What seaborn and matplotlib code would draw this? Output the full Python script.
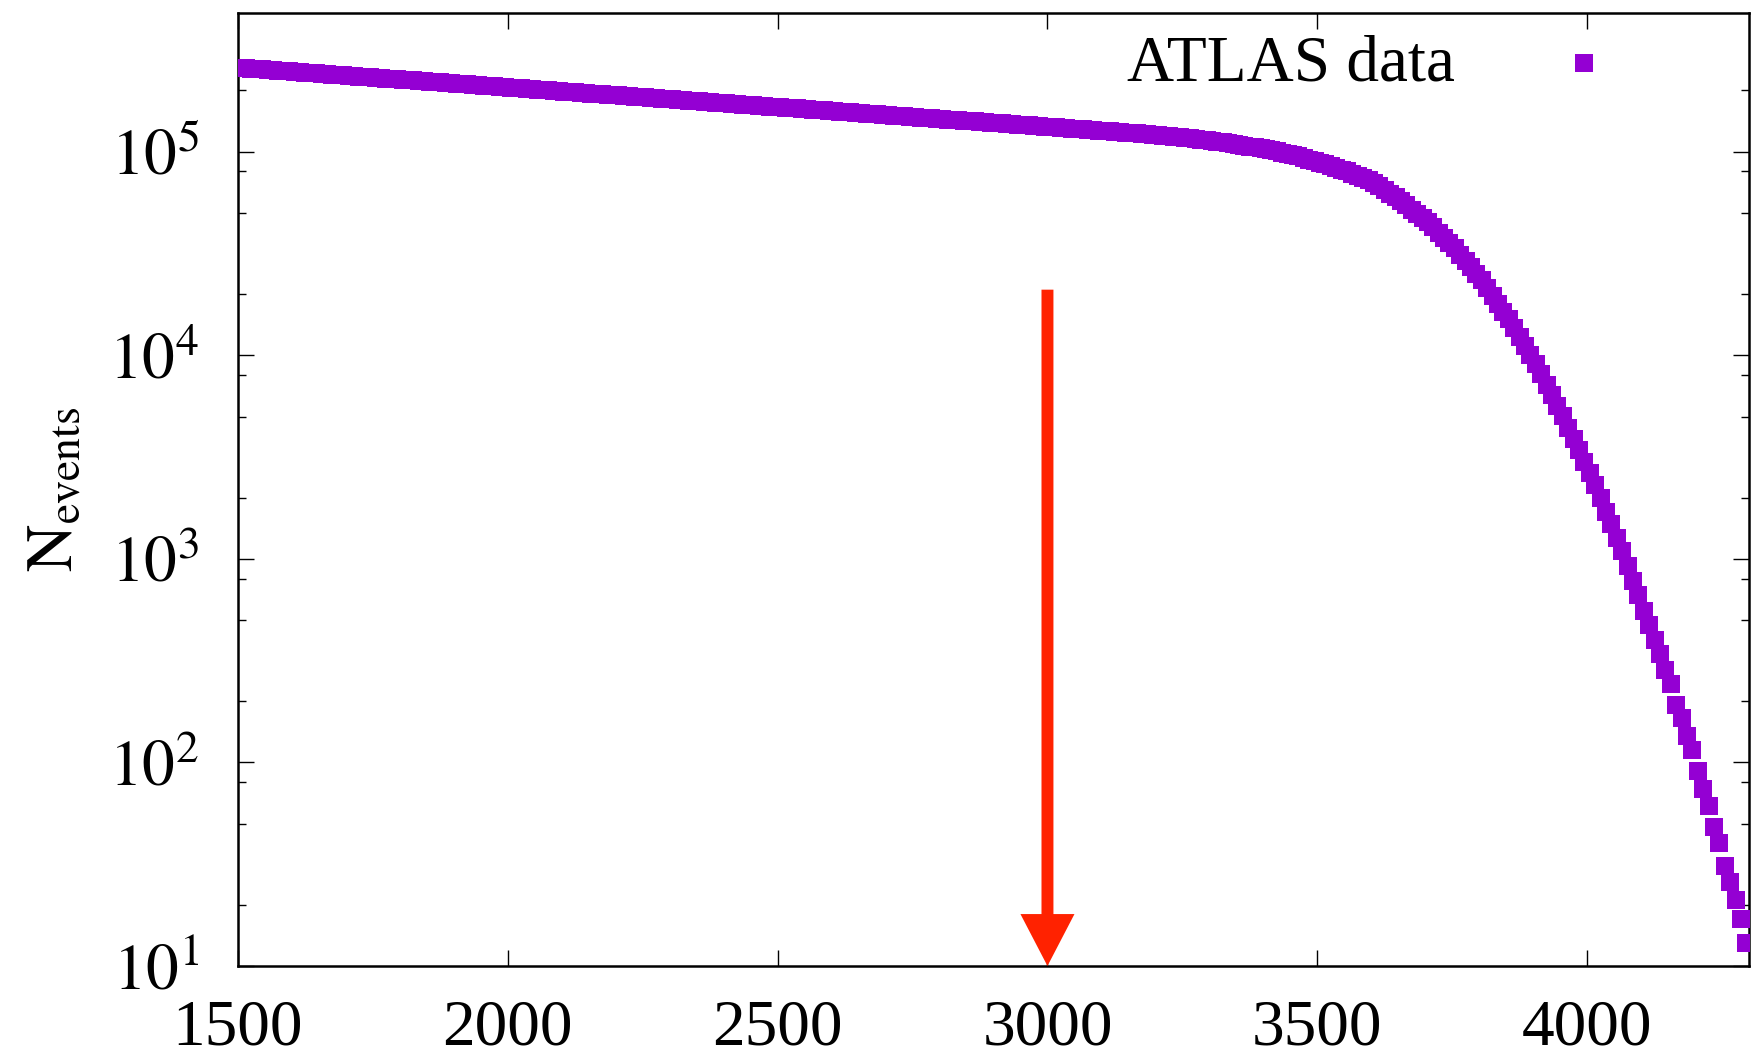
import numpy as np
import pandas as pd
import matplotlib
matplotlib.use("Agg")
import matplotlib.pyplot as plt
from matplotlib.ticker import LogLocator, NullFormatter, FixedLocator
import seaborn as sns

# ---------------- data ----------------
bin_centers = np.arange(1505, 4300, 10)  # GeV, 10 GeV bins

n_events = [
    258200, 257000, 255900, 254800, 253600, 252500, 251400, 250200, 249100, 248000,
    246900, 245800, 244700, 243600, 242500, 241400, 240400, 239300, 238200, 237200,
    236100, 235000, 234000, 233000, 231900, 230900, 229900, 228800, 227800, 226800,
    225800, 224800, 223800, 222800, 221800, 220800, 219800, 218800, 217900, 216900,
    216000, 215000, 214100, 213100, 212200, 211200, 210300, 209300, 208400, 207500,
    206500, 205600, 204700, 203800, 202800, 201900, 201000, 200100, 199200, 198400,
    197500, 196600, 195700, 194900, 194000, 193100, 192300, 191400, 190600, 189700,
    188900, 188100, 187200, 186400, 185600, 184700, 183900, 183100, 182300, 181500,
    180600, 179800, 179000, 178200, 177400, 176600, 175800, 175000, 174300, 173500,
    172700, 171900, 171200, 170400, 169600, 168900, 168100, 167400, 166600, 165900,
    165200, 164500, 163700, 163000, 162300, 161500, 160800, 160100, 159400, 158700,
    158000, 157300, 156600, 155900, 155200, 154500, 153800, 153100, 152400, 151800,
    151100, 150400, 149800, 149100, 148400, 147800, 147100, 146400, 145800, 145100,
    144500, 143900, 143200, 142600, 141900, 141300, 140700, 140000, 139400, 138800,
    138200, 137600, 137000, 136400, 135800, 135100, 134500, 133900, 133300, 132800,
    132100, 131500, 130900, 130300, 129800, 129200, 128600, 128000, 127500, 126900,
    126400, 125800, 125300, 124700, 124200, 123600, 123100, 122500, 122000, 121400,
    120200, 119600, 118900, 118300, 117600, 116900, 116100, 115300, 114600, 113800,
    113000, 112000, 111000, 110100, 109100, 108100, 107100, 106000, 104900, 103800,
    102800, 101500, 100300, 99000, 97800, 96600, 94900, 93200, 91500, 89900,
    88300, 86600, 85000, 83300, 81700, 80200, 78100, 76100, 74100, 72200,
    70300, 67500, 64700, 62100, 59600, 57100, 54500, 52000, 49600, 47300,
    45100, 42500, 40000, 37700, 35600, 33500, 31200, 29000, 27000, 25100,
    23300, 21400, 19600, 17900, 16400, 15100, 13600, 12300, 11100, 10030,
    9060, 8050, 7150, 6350, 5640, 5010, 4410, 3880, 3410, 3000,
    2640, 2300, 1980, 1700, 1476, 1270, 1096, 925, 780, 667,
    556, 474, 401, 342, 285, 244, 192, 166, 135, 115,
    91, 74, 61, 48, 40, 31, 26, 21, 17, 13,
]

series_label = "ATLAS data"
y_label = r"$\mathrm{N}_{\mathrm{events}}$"

x_ticks = [1500, 2000, 2500, 3000, 3500, 4000]
x_tick_labels = ["1500", "2000", "2500", "3000", "3500", "4000"]
y_ticks = [1e1, 1e2, 1e3, 1e4, 1e5]
y_tick_labels = [r"$10^{1}$", r"$10^{2}$", r"$10^{3}$", r"$10^{4}$", r"$10^{5}$"]

arrow_x = 3000
arrow_y_start = 2.1e4
arrow_y_end = 10

# ---------------- style ----------------
sns.set_style("ticks")
plt.rcParams["font.family"] = ["Liberation Serif", "DejaVu Serif"]
plt.rcParams["mathtext.fontset"] = "stix"
plt.rcParams["text.color"] = "black"
plt.rcParams["axes.labelcolor"] = "black"
plt.rcParams["xtick.color"] = "black"
plt.rcParams["ytick.color"] = "black"

FS = 47
PURPLE = "#9400D3"
RED = "#FF2200"

W, H = 1752, 1062
fig = plt.figure(figsize=(W / 100, H / 100), dpi=100)
left, right, top, bottom = 238, 1749, 13, 966
ax = fig.add_axes([left / W, 1 - bottom / H, (right - left) / W, (bottom - top) / H])

df = pd.DataFrame({"mass": bin_centers, "events": n_events})
sns.scatterplot(data=df, x="mass", y="events", ax=ax, marker="s", s=150,
                color=PURPLE, linewidth=0, label=series_label, zorder=3)

ax.set_yscale("log")
ax.set_xlim(1500, 4300)
ax.set_ylim(10, 4.8e5)

ax.set_xticks(x_ticks, labels=x_tick_labels)
ax.xaxis.set_minor_locator(FixedLocator([]))
ax.set_yticks(y_ticks, labels=y_tick_labels)
ax.yaxis.set_minor_locator(LogLocator(base=10, subs=[2, 5, 8]))
ax.yaxis.set_minor_formatter(NullFormatter())

ax.tick_params(which="both", direction="in", top=True, right=True,
               labelsize=FS, colors="black", labelcolor="black", width=1.0)
ax.tick_params(which="major", length=11.5)
ax.tick_params(which="minor", length=5.8)
ax.tick_params(axis="x", which="major", pad=24)
ax.tick_params(axis="y", which="major", pad=28)

ax.set_xlabel("")
ax.set_ylabel(y_label, fontsize=FS, color="black")
ax.yaxis.set_label_coords(-0.100, 0.5)

for sp in ax.spines.values():
    sp.set_linewidth(1.8)
    sp.set_color("black")

# red arrow
ax.annotate("", xy=(arrow_x, arrow_y_end), xytext=(arrow_x, arrow_y_start),
            arrowprops=dict(arrowstyle="simple,head_length=3.74,head_width=3.89,tail_width=0.86",
                            mutation_scale=10, facecolor=RED, edgecolor="none", lw=0,
                            shrinkA=0, shrinkB=0),
            zorder=4, annotation_clip=False)

leg = ax.legend(loc="upper right", bbox_to_anchor=(0.9338, 0.977), borderaxespad=0,
                borderpad=0, handletextpad=0.97, handlelength=2.0, frameon=False,
                markerfirst=False, fontsize=FS, scatterpoints=1, labelcolor="black")

fig.savefig("out.png", dpi=100)
